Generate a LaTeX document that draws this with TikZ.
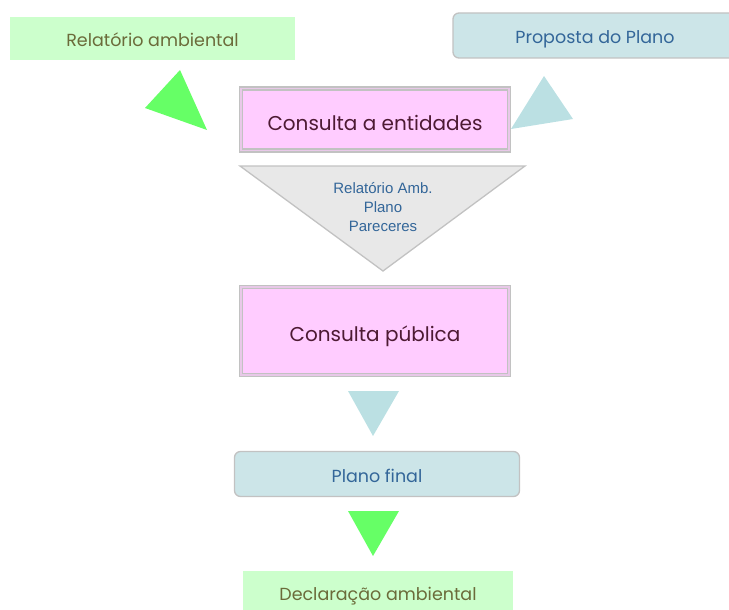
\documentclass[tikz,border=0pt]{standalone}
\usepackage{fontspec}
\setmainfont{Poppins}
\newfontfamily\arialfont{Liberation Sans}
\definecolor{relgreen}{HTML}{CCFFCC}
\definecolor{olivetext}{HTML}{6B6B3A}
\definecolor{planblue}{HTML}{CCE5E8}
\definecolor{bluetext}{HTML}{336699}
\definecolor{consultpink}{HTML}{FFCCFF}
\definecolor{maroontext}{HTML}{4D1A33}
\definecolor{framegray}{HTML}{C2C2C2}
\definecolor{bevelpink}{HTML}{E8C8E8}
\definecolor{arrowgreen}{HTML}{66FF66}
\definecolor{arrowblue}{HTML}{BBE0E3}
\definecolor{funnelgray}{HTML}{E8E8E8}

\begin{document}
\begin{tikzpicture}[x=1pt,y=-1pt,
    docbox/.style={fill=relgreen,text=olivetext,inner sep=0pt,text height=16pt,text depth=0pt,
      font=\fontsize{17.5}{20}\selectfont},
    planbox/.style={fill=planblue,draw=framegray,line width=1.3pt,rounded corners=6pt,
      text=bluetext,inner sep=0pt,text height=16pt,text depth=0pt,font=\fontsize{17.5}{20}\selectfont},
    consultbox/.style={fill=consultpink,draw=framegray,line width=1.5pt,double=bevelpink,
      double distance=1.5pt,text=maroontext,inner sep=0pt,text height=21pt,text depth=0pt,
      font=\fontsize{20}{24}\selectfont}]
  \useasboundingbox (0,0) rectangle (729,610);

  \node[docbox,minimum width=285pt,minimum height=43pt] (rel) at (152.5,38.5) {Relatório ambiental};
  \node[planbox,minimum width=284pt,minimum height=45pt] (prop) at (595,35.5) {Proposta do Plano};
  \node[consultbox,minimum width=268pt,minimum height=62pt] (ent) at (375,119.5) {Consulta a entidades};

  % setas laterais
  \fill[arrowgreen] (145,108) -- (180,70) -- (207,130) -- cycle;
  \fill[arrowblue] (544,76) -- (573,119) -- (511,129) -- cycle;

  % funil
  \draw[fill=funnelgray,draw=framegray,line width=1.3pt] (240,166) -- (525,166) -- (383,271) -- cycle;
  \node[text=bluetext,font=\arialfont\fontsize{15}{19}\selectfont,align=center] (funnel) at (383,207)
    {Relatório Amb.\\Plano\\Pareceres};

  \node[consultbox,minimum width=268pt,minimum height=88pt] (pub) at (375,331) {Consulta pública};
  \fill[arrowblue] (348,391) -- (399,391) -- (373,436) -- cycle;
  \node[planbox,minimum width=285pt,minimum height=45pt] (final) at (377,474) {Plano final};
  \fill[arrowgreen] (348,511) -- (399,511) -- (373,556) -- cycle;
  \node[docbox,minimum width=270pt,minimum height=42pt] (decl) at (378,592) {Declaração ambiental};
\end{tikzpicture}
\end{document}
